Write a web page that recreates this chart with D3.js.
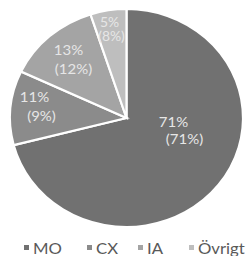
<!DOCTYPE html>
<html><head><meta charset="utf-8">
<script src="https://cdn.jsdelivr.net/npm/d3@7"></script>
<style>html,body{margin:0;padding:0;background:#fff;overflow:hidden}</style>
</head><body>
<svg id="c" width="248" height="256"></svg>
<script>
const categories = ["MO", "CX", "IA", "Övrigt"];
const values = [71, 11, 13, 5];
const compareValues = [71, 9, 12, 8];
const colors = ["#717171", "#8b8b8b", "#a4a4a4", "#bebebe"];

// layout (pixels)
const cx = 126.5, cy = 118, R = 109, sx = 116.5 / 109;
const labelLayout = [
  [[47, 9], [58, 26]],
  [[-92, -16], [-85, 3]],
  [[-58, -63], [-53, -44]],
  [[-17, -91], [-15, -77]]
];
const legendX = [24, 87, 138, 189];

const svg = d3.select("#c");
const pie = d3.pie().sort(null).value(d => d)(values);
const arc = d3.arc().innerRadius(0).outerRadius(R);
const g = svg.append("g").attr("transform", `translate(${cx},${cy}) scale(${sx},1)`);
g.selectAll("path").data(pie).join("path")
  .attr("d", arc)
  .attr("fill", (d, i) => colors[i])
  .attr("stroke", "#fff")
  .attr("stroke-width", 2.2)
  .attr("vector-effect", "non-scaling-stroke");

const lg = svg.append("g").attr("transform", `translate(${cx},${cy})`);
pie.forEach((d, i) => {
  const lines = [values[i] + "%", "(" + compareValues[i] + "%)"];
  lines.forEach((t, j) => {
    lg.append("text")
      .attr("transform", `translate(${labelLayout[i][j][0]},${labelLayout[i][j][1]}) scale(${sx},1)`)
      .attr("text-anchor", "middle")
      .attr("font-family", "Lato, sans-serif")
      .attr("font-size", i === 3 ? 13 : 14)
      .attr("fill", "#e6e6e6")
      .text(t);
  });
});

const leg = svg.append("g");
categories.forEach((c, i) => {
  const it = leg.append("g").attr("transform", `translate(${legendX[i]},0)`);
  it.append("rect").attr("x", 0).attr("y", 245).attr("width", 5).attr("height", 5)
    .attr("fill", colors[i]);
  it.append("text").attr("transform", `translate(9,253.5) scale(1.08,1)`)
    .attr("font-family", "Lato, sans-serif").attr("font-size", 15.5)
    .attr("fill", "#595959").text(c);
});
</script>
</body></html>
